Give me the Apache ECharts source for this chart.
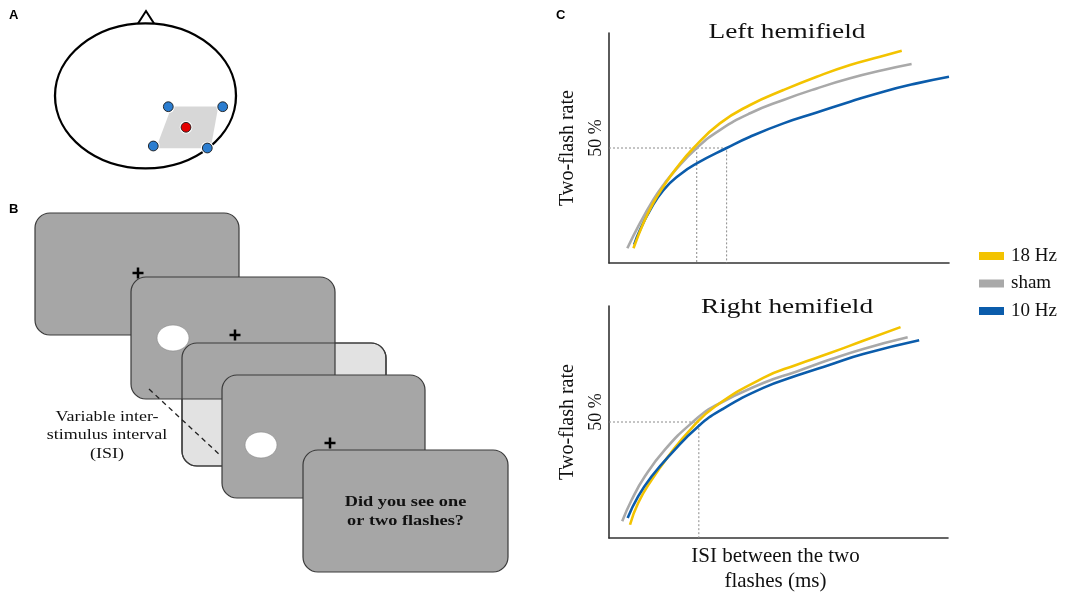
<!DOCTYPE html>
<html>
<head>
<meta charset="utf-8">
<script src="https://cdn.jsdelivr.net/npm/echarts@6/dist/echarts.min.js"></script>
<style>html,body{margin:0;padding:0;background:#fff}#c{width:1085px;height:600px}</style>
</head>
<body>
<div id="c"></div>
<script>
// ---- data (ISI in % of axis span, two-flash rate in %) ----
const seriesNames = ['18 Hz', 'sham', '10 Hz'];
const seriesColors = ['#f3c300', '#a9a9a9', '#0b5cab'];
const leftYellow = [[7.2,6.4],[10.1,17.3],[13,26],[16,33.2],[19.4,40.4],[24.8,49.9],[32.6,60.7],[41.5,68.7],[51.3,75.2],[61.1,81],[70.9,86.1],[79.7,89.7],[86.1,92.3]];
const leftSham   = [[5.4,6.4],[9.1,17.3],[13,27.4],[16,33.9],[19.4,40.2],[25.8,50],[32.6,57.8],[41.5,65.1],[51.3,70.9],[61.1,75.9],[70.9,80.3],[80.7,83.9],[89,86.5]];
const leftBlue   = [[7.4,8],[9.1,14.3],[12.1,23],[16,31.7],[20.9,38.5],[25.8,43.3],[34.6,50],[41.5,54.9],[51.3,60.7],[61.1,65.4],[70.9,70.1],[80.7,74.5],[90.5,78.1],[100,81]];
const rightYellow = [[6.2,5.7],[8.6,15.1],[12.6,25.1],[17.5,35.2],[24.4,47.4],[31.3,56.7],[45.5,69],[55.4,74.7],[65.2,79.7],[75,85],[86,90.9]];
const rightSham   = [[3.9,7.2],[6.7,16.5],[10.6,26.6],[16.5,38.1],[24.4,49.6],[31.3,57],[45.5,66.8],[55.4,71.8],[65.2,76.9],[75,81.5],[88.1,86.5]];
const rightBlue   = [[5.5,8.6],[8.6,17.9],[12.6,26.6],[18.5,36.6],[26.3,48.1],[33.2,55.3],[45.5,64.7],[55.4,70],[65.2,74.7],[75,79.3],[91.5,85.2]];
const leftRefA  = [[0,50],[34.6,50],[34.6,0]];
const leftRefB  = [[25.8,50],[25.8,0]];
const rightRef  = [[0,50],[26.5,50],[26.5,0]];
const yTickValues = [50];
const yTickLabels = ['50 %'];
const chartTitles = ['Left hemifield', 'Right hemifield'];
const yAxisName = 'Two-flash rate';
const xAxisName = 'ISI between the two\nflashes (ms)';

const SERIF = 'Liberation Serif';
const chart = echarts.init(document.getElementById('c'), null, {renderer: 'canvas'});

function yAx(idx) {
  return {
    type: 'value', gridIndex: idx, min: 0, max: 100,
    axisLine: {show: true, lineStyle: {color: '#333', width: 1.6}},
    axisTick: {show: false}, splitLine: {show: false},
    axisLabel: {
      show: true, customValues: yTickValues, rotate: 90, margin: 4,
      fontFamily: SERIF, fontSize: 18, color: '#111',
      padding: [0, 0, 0, 20],
      formatter: v => yTickLabels[yTickValues.indexOf(v)] ?? ''
    },
    name: yAxisName, nameLocation: 'middle', nameRotate: 90, nameGap: 31,
    nameTextStyle: {fontFamily: SERIF, fontSize: 20, color: '#111'}
  };
}
function xAx(idx, withName) {
  const a = {
    type: 'value', gridIndex: idx, min: 0, max: 100,
    axisLine: {show: true, lineStyle: {color: '#333', width: 1.6}},
    axisTick: {show: false}, splitLine: {show: false}, axisLabel: {show: false}
  };
  if (withName) {
    a.name = xAxisName; a.nameLocation = 'middle'; a.nameGap = 6;
    a.nameTextStyle = {fontFamily: SERIF, fontSize: 21, color: '#111', lineHeight: 25, verticalAlign: 'top', padding: [0, 6, 0, 0]};
  }
  return a;
}
function curve(name, data, idx, color) {
  return {
    type: 'line', name, data, xAxisIndex: idx, yAxisIndex: idx,
    smooth: 0.5, showSymbol: false, symbol: 'none',
    lineStyle: {color, width: 2.6}, itemStyle: {color}, silent: true, z: 3
  };
}
function ref(data, idx) {
  return {
    type: 'line', data, xAxisIndex: idx, yAxisIndex: idx, showSymbol: false, symbol: 'none',
    lineStyle: {color: '#8a8a8a', width: 1, type: [2, 2]}, silent: true, z: 2
  };
}

// ---- panel A & B drawings ----
function screen(x, y, w, h, fill, z) {
  return {type: 'rect', shape: {x, y, width: w, height: h, r: 15}, style: {fill, stroke: '#3a3a3a', lineWidth: 1.2}, z};
}
function cross(cx, cy, z) {
  return [
    {type: 'line', shape: {x1: cx - 5.5, y1: cy, x2: cx + 5.5, y2: cy}, style: {stroke: '#000', lineWidth: 2.5}, z},
    {type: 'line', shape: {x1: cx, y1: cy - 5.5, x2: cx, y2: cy + 5.5}, style: {stroke: '#000', lineWidth: 2.5}, z}
  ];
}
function dot(cx, cy, color, z) {
  return [
    {type: 'circle', shape: {cx, cy, r: 6.3}, style: {fill: '#fff'}, z},
    {type: 'circle', shape: {cx, cy, r: 4.9}, style: {fill: color, stroke: '#1b1b1b', lineWidth: 0.9}, z: z + 1}
  ];
}
const darkGray = '#a6a6a6', lightGray = '#e2e2e2';
const graphics = [
  // panel letters
  {type: 'text', x: 9, y: 9, style: {text: 'A', font: 'bold 13px "Liberation Sans"', fill: '#000'}},
  {type: 'text', x: 9, y: 203, style: {text: 'B', font: 'bold 13px "Liberation Sans"', fill: '#000'}},
  {type: 'text', x: 556, y: 9, style: {text: 'C', font: 'bold 13px "Liberation Sans"', fill: '#000'}},
  // head
  {type: 'polygon', shape: {points: [[137, 25], [146, 11], [155, 25]]}, style: {fill: '#fff', stroke: '#000', lineWidth: 2}, z: 1},
  {type: 'ellipse', shape: {cx: 145.5, cy: 95.8, rx: 90.5, ry: 72.5}, style: {fill: '#fff', stroke: '#000', lineWidth: 2.3}, z: 2},
  {type: 'polygon', shape: {points: [[171.7, 106.5], [218.3, 106.5], [210.7, 148.3], [156, 148.3]]}, style: {fill: '#d7d7d7'}, z: 3},
  ...dot(168.3, 106.7, '#2b7dd0', 4), ...dot(222.7, 106.7, '#2b7dd0', 4),
  ...dot(153.3, 146, '#2b7dd0', 4), ...dot(207.3, 148, '#2b7dd0', 4),
  ...dot(186, 127.3, '#e30000', 4),
  // panel B screens
  screen(35, 213, 204, 122, darkGray, 10),
  ...cross(138, 273, 11),
  screen(182, 343, 204, 123, lightGray, 12),
  screen(131, 277, 204, 122, darkGray, 13),
  {type: 'rect', shape: {x: 182, y: 343, width: 204, height: 123, r: 15}, style: {fill: 'none', stroke: '#3a3a3a', lineWidth: 1.2}, z: 14},
  {type: 'ellipse', shape: {cx: 173, cy: 338, rx: 16, ry: 13}, style: {fill: '#fff', stroke: '#888', lineWidth: 0.6}, z: 15},
  ...cross(235, 335, 15),
  {type: 'line', shape: {x1: 149, y1: 389, x2: 221, y2: 456}, style: {stroke: '#222', lineWidth: 1.3, lineDash: [5, 4]}, z: 15},
  screen(222, 375, 203, 123, darkGray, 16),
  {type: 'ellipse', shape: {cx: 261, cy: 445, rx: 16, ry: 13}, style: {fill: '#fff', stroke: '#888', lineWidth: 0.6}, z: 17},
  ...cross(330, 443, 17),
  screen(303, 450, 205, 122, darkGray, 18),
  {type: 'text', x: 405.5, y: 512, scaleX: 1.22, z: 19,
   style: {text: 'Did you see one\nor two flashes?', fontFamily: SERIF, fontSize: 15, fontWeight: 'bold', lineHeight: 19, fill: '#111', align: 'center', verticalAlign: 'middle'}},
  {type: 'text', x: 107, y: 435.5, scaleX: 1.2, z: 19,
   style: {text: 'Variable inter-\nstimulus interval\n(ISI)', fontFamily: SERIF, fontSize: 15, lineHeight: 18.5, fill: '#111', align: 'center', verticalAlign: 'middle'}},
  // chart titles
  {type: 'text', x: 787, y: 32, scaleX: 1.3, style: {text: chartTitles[0], fontFamily: SERIF, fontSize: 21, fill: '#111', align: 'center', verticalAlign: 'middle'}},
  {type: 'text', x: 787, y: 307, scaleX: 1.3, style: {text: chartTitles[1], fontFamily: SERIF, fontSize: 21, fill: '#111', align: 'center', verticalAlign: 'middle'}}
];

const option = {
  backgroundColor: '#fff',
  animation: false,
  grid: [
    {left: 609, top: 33, width: 340, height: 230, outerBoundsMode: 'none', containLabel: false},
    {left: 609, top: 306, width: 339, height: 232, outerBoundsMode: 'none', containLabel: false}
  ],
  xAxis: [xAx(0, false), xAx(1, true)],
  yAxis: [yAx(0), yAx(1)],
  legend: {
    data: seriesNames, orient: 'vertical', left: 974, top: 241,
    icon: 'rect', itemWidth: 25, itemHeight: 8, itemGap: 7.5,
    textStyle: {fontFamily: SERIF, fontSize: 19, color: '#111', lineHeight: 20, padding: [0, 0, 0, 2]},
    selectedMode: false
  },
  series: [
    ref(leftRefA, 0), ref(leftRefB, 0), ref(rightRef, 1),
    curve(seriesNames[1], leftSham, 0, seriesColors[1]),
    curve(seriesNames[2], leftBlue, 0, seriesColors[2]),
    curve(seriesNames[0], leftYellow, 0, seriesColors[0]),
    curve(seriesNames[1], rightSham, 1, seriesColors[1]),
    curve(seriesNames[0], rightYellow, 1, seriesColors[0]),
    curve(seriesNames[2], rightBlue, 1, seriesColors[2])
  ],
  graphic: graphics
};
chart.setOption(option);
</script>
</body>
</html>
